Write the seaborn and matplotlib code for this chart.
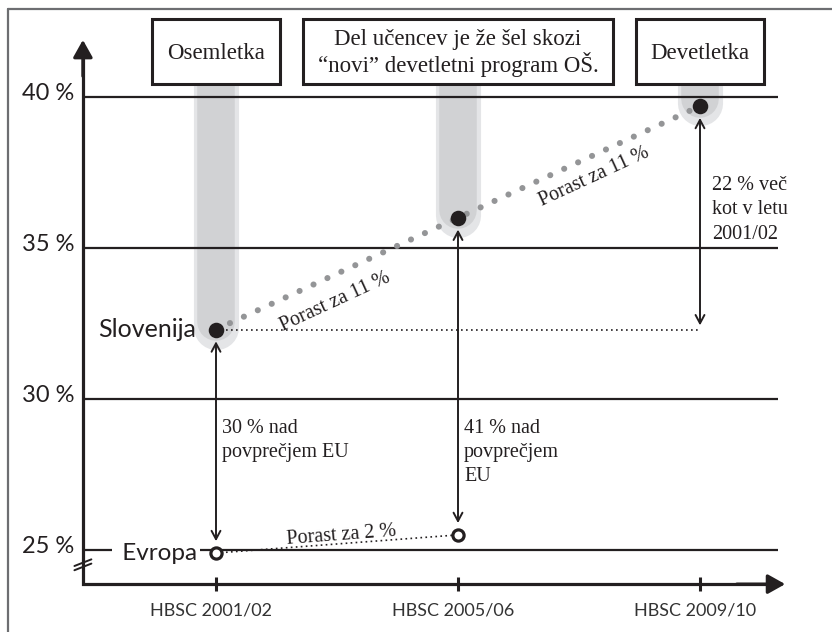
import numpy as np
import matplotlib
matplotlib.use("Agg")
import matplotlib.pyplot as plt
import seaborn as sns
from matplotlib.patches import Rectangle
from matplotlib.lines import Line2D

# ---------------------------
# Data
# ---------------------------
surveys = ["HBSC 2001/02", "HBSC 2005/06", "HBSC 2009/10"]
slovenija = [32.3, 36.0, 39.7]
evropa = [24.9, 25.5]
y_ticks = [25, 30, 35, 40]
y_tick_labels = ["25 %", "30 %", "35 %", "40 %"]
box_texts = ["Osemletka",
             "Del učencev je že šel skozi\n“novi” devetletni program OŠ.",
             "Devetletka"]
gap_texts = ["30 % nad\npovprečjem EU", "41 % nad\npovprečjem\nEU"]
growth_texts = ["Porast za 11 %", "Porast za 11 %"]
eu_growth_text = "Porast za 2 %"
vs_first_text = "22 % več\nkot v letu\n2001/02"

# ---------------------------
# Style
# ---------------------------
sns.set_style("white")
SANS = ["Lato", "DejaVu Sans"]
SERIF = ["Liberation Serif", "DejaVu Serif"]
plt.rcParams["font.family"] = SANS
ink = "#231f20"
dot_gray = "#949597"

# scale: 242 px per survey step, 151 px per 5 %
fig = plt.figure(figsize=(8.32, 6.32), dpi=100)
ax = fig.add_axes([0, 0, 1, 1])
ax.set_xlim(-216 / 242, (832 - 216) / 242)
ax.set_ylim(25 - 82 / 30.2, 25 + 550 / 30.2)
ax.axis("off")

x = np.arange(len(surveys))
x_left, x_right, grid_right = -0.55, 2.352, 2.322
y_bottom, y_top = 23.87, 41.89
box_bottom, box_h = 40.43, 2.15

# outer frame (only top / left visible)
fig.add_artist(Line2D([8 / 832, 1], [1 - 9 / 632] * 2, color="#6d6e71", lw=1.6))
fig.add_artist(Line2D([8 / 832] * 2, [0, 1 - 9 / 632], color="#6d6e71", lw=1.6))

# gray highlight bands behind the Slovenian points
for xi, v in zip(x, slovenija):
    ax.plot([xi, xi], [box_bottom, v + 0.1], lw=32.5, color="#e4e5e7",
            solid_capstyle="round", zorder=1)
    ax.plot([xi, xi], [box_bottom, v + 0.25], lw=27, color="#d1d2d4",
            solid_capstyle="round", zorder=1.1)

# gridlines
ax.hlines(y_ticks, x_left, grid_right, color=ink, lw=1.6, zorder=2)

# axes with arrow heads
ax.plot([x_left, x_left, x_right - 0.04], [y_top - 0.3, y_bottom, y_bottom],
        color=ink, lw=2.3, solid_joinstyle="miter", zorder=3)
head = dict(arrowstyle="-|>,head_length=0.75,head_width=0.42", color=ink,
            lw=2.3, mutation_scale=14, shrinkA=0, shrinkB=0)
ax.annotate("", xy=(x_right, y_bottom), xytext=(x_right - 0.2, y_bottom),
            arrowprops=head, zorder=3)
ax.annotate("", xy=(x_left, y_top), xytext=(x_left, y_top - 1.2),
            arrowprops=head, zorder=3)
ax.vlines(x, y_bottom - 0.23, y_bottom + 0.23, color=ink, lw=2.2, zorder=3)

# axis break marks
for dy in (0.0, 0.14):
    ax.plot([x_left - 0.035, x_left + 0.035], [24.33 + dy, 24.55 + dy],
            color=ink, lw=1.4, zorder=3)

# tick labels
for yv, lab in zip(y_ticks, y_tick_labels):
    ax.text(x_left - 0.035, yv + 0.1, lab, ha="right", va="center",
            fontsize=17, color=ink)
for xi, lab in zip(x, surveys):
    ax.text(xi - 0.02, 23.0, lab, ha="center", va="center", fontsize=13,
            color="#333333")

# headline boxes
box_w = [0.525, 1.277, 0.525]
for xi, w, txt in zip(x, box_w, box_texts):
    ax.add_patch(Rectangle((xi - w / 2, box_bottom), w, box_h, facecolor="white",
                           edgecolor=ink, lw=2.2, zorder=5))
    ax.text(xi, box_bottom + box_h / 2 - 0.05, txt, ha="center", va="center",
            fontsize=16.5, family=SERIF, color=ink, linespacing=1.1, zorder=6)

# reference line at the 2001/02 Slovenian level
ax.plot([x[0], x[2]], [slovenija[0]] * 2, color=ink, lw=1.2,
        linestyle=(0, (1, 2)), zorder=3)

# Slovenia trend (gray dots) and points
sns.lineplot(x=x, y=slovenija, ax=ax, color=dot_gray, lw=4.4, zorder=4)
trend = ax.lines[-1]
trend.set_linestyle((0, (0.01, 2.5)))
trend.set_dash_capstyle("round")
sns.scatterplot(x=x, y=slovenija, ax=ax, s=125, color=ink, linewidth=0, zorder=7)

# Europe trend and points
sns.lineplot(x=x[:2], y=evropa, ax=ax, color=ink, lw=1.2, zorder=4)
ax.lines[-1].set_linestyle((0, (1, 2)))
sns.scatterplot(x=x[:2], y=evropa, ax=ax, s=65, facecolor="white",
                edgecolor=ink, linewidth=2.3, zorder=7)

# series labels
ax.text(-0.082, slovenija[0], "Slovenija", ha="right", va="center",
        fontsize=18, color=ink, zorder=6)
ax.text(-0.08, evropa[0], " Evropa", ha="right", va="center", fontsize=17.5,
        color=ink, zorder=6,
        bbox=dict(facecolor="white", edgecolor="none", pad=2.5))

# double headed comparison arrows
arr = dict(arrowstyle="<->,head_length=0.6,head_width=0.32", color=ink,
           lw=1.4, mutation_scale=10, shrinkA=8.5, shrinkB=8.5)
for xi in x[:2]:
    ax.annotate("", xy=(xi, evropa[xi]), xytext=(xi, slovenija[xi]),
                arrowprops=arr, zorder=6)
ax.annotate("", xy=(x[2], slovenija[0]), xytext=(x[2], slovenija[2]),
            arrowprops=dict(arr, shrinkB=3), zorder=6)

# annotation texts
ann = dict(ha="left", va="top", fontsize=14.5, family=SERIF, color=ink,
           linespacing=1.38, zorder=6)
for xi, txt in zip(x[:2], gap_texts):
    ax.text(xi + 0.025, 29.35, txt, **ann)
ax.text(x[2] + 0.05, 37.38, vs_first_text, **ann)


def seg_angle(x0, y0, x1, y1):
    p0, p1 = ax.transData.transform([(x0, y0), (x1, y1)])
    return np.degrees(np.arctan2(p1[1] - p0[1], p1[0] - p0[0]))


offsets = [(-1, -20), (11, -11)]
for i, (txt, off) in enumerate(zip(growth_texts, offsets)):
    mx, my = (x[i] + x[i + 1]) / 2, (slovenija[i] + slovenija[i + 1]) / 2
    ax.annotate(txt, xy=(mx, my), xytext=off, textcoords="offset points",
                ha="center", va="center", fontsize=14.5, family=SERIF, color=ink,
                rotation=seg_angle(x[i], slovenija[i], x[i + 1], slovenija[i + 1]),
                rotation_mode="anchor", zorder=6)
mx, my = (x[0] + x[1]) / 2, (evropa[0] + evropa[1]) / 2
ax.annotate(eu_growth_text, xy=(mx, my), xytext=(3.5, 6.5), textcoords="offset points",
            ha="center", va="center", fontsize=14.5, family=SERIF, color=ink,
            rotation=seg_angle(x[0], evropa[0], x[1], evropa[1]),
            rotation_mode="anchor", zorder=6)

fig.savefig("out.png", dpi=100, facecolor="white")
